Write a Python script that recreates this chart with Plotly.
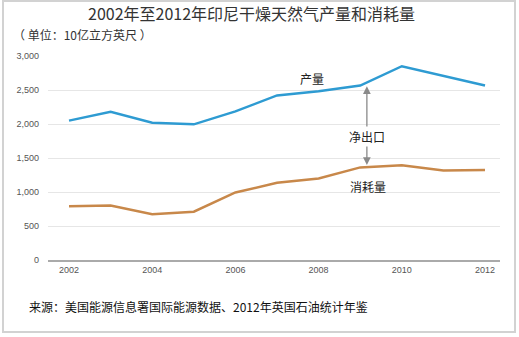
import plotly.graph_objects as go

years = [2002, 2003, 2004, 2005, 2006, 2007, 2008, 2009, 2010, 2011, 2012]
production = [2050, 2180, 2020, 1995, 2185, 2420, 2480, 2565, 2850, 2705, 2565]
consumption = [792, 800, 672, 710, 993, 1135, 1200, 1362, 1393, 1316, 1322]

title_text = "2002年至2012年印尼干燥天然气产量和消耗量"
unit_text = "（ 单位：10亿立方英尺 ）"
source_text = "来源：美国能源信息署国际能源数据、2012年英国石油统计年鉴"
label_prod = "产量"
label_cons = "消耗量"
label_net = "净出口"

FONT = "Liberation Sans, Noto Sans CJK SC, sans-serif"
CJK = "Noto Sans CJK SC, Liberation Sans, sans-serif"

fig = go.Figure()
fig.add_trace(go.Scatter(x=years, y=production, mode="lines",
                         line=dict(color="#2E9BD2", width=2.5), hoverinfo="skip"))
fig.add_trace(go.Scatter(x=years, y=consumption, mode="lines",
                         line=dict(color="#C8884A", width=2.5), hoverinfo="skip"))

L, R, T, B = 48, 19, 56, 77
W, H = 519, 337
pw, ph = W - L - R, H - T - B

def px(x):
    return (x - L) / pw

def py(y):
    return (H - B - y) / ph

arrow_x = 2009.16
fig.add_annotation(x=arrow_x, y=2555, ax=arrow_x, ay=1375, xref="x", yref="y",
                   axref="x", ayref="y", text="", showarrow=True,
                   arrowhead=2, arrowside="end+start", arrowsize=1.2,
                   arrowwidth=1.3, arrowcolor="#8a8a8a")
fig.add_annotation(x=arrow_x, y=1810, xref="x", yref="y", text=label_net,
                   showarrow=False, bgcolor="white", borderpad=1,
                   font=dict(family=CJK, size=12, color="#222"))
fig.add_annotation(x=2007.84, y=2665, xref="x", yref="y", text=label_prod,
                   showarrow=False, font=dict(family=CJK, size=12, color="#222"))
fig.add_annotation(x=2009.19, y=1088, xref="x", yref="y", text=label_cons,
                   showarrow=False, font=dict(family=CJK, size=12, color="#222"))

fig.add_annotation(x=px(251), y=py(13), xref="paper", yref="paper", text=title_text,
                   showarrow=False, xanchor="center", yanchor="middle", borderpad=0,
                   font=dict(family=CJK, size=16, color="#333"))
fig.add_annotation(x=px(12), y=py(35), xref="paper", yref="paper", text=unit_text,
                   showarrow=False, xanchor="left", yanchor="middle", borderpad=0,
                   font=dict(family=CJK, size=12, color="#333"))
fig.add_annotation(x=px(27), y=py(306), xref="paper", yref="paper", text=source_text,
                   showarrow=False, xanchor="left", yanchor="middle",
                   font=dict(family=CJK, size=12, color="#111"))

fig.add_shape(type="rect", xref="paper", yref="paper",
              x0=px(3), x1=px(515), y0=py(332), y1=py(1),
              line=dict(color="#d2d2d2", width=2), fillcolor="rgba(0,0,0,0)", layer="below")

fig.update_layout(
    width=W, height=H,
    margin=dict(l=L, r=R, t=T, b=B),
    paper_bgcolor="white", plot_bgcolor="white",
    showlegend=False,
    font=dict(family=FONT, size=9, color="#555"),
    xaxis=dict(range=[2001.495, 2012.36], tickmode="array", tickvals=[2002, 2004, 2006, 2008, 2010, 2012],
               showgrid=False, showline=True, linecolor="#aaaaaa", linewidth=2,
               ticks="", zeroline=False, tickfont=dict(size=9, color="#555")),
    yaxis=dict(range=[0, 3000], tickvals=[0, 500, 1000, 1500, 2000, 2500, 3000], tickformat=",",
               showgrid=True, gridcolor="#e6e6e6", gridwidth=1, zeroline=False,
               showline=False, ticks="", ticklabelstandoff=8, tickfont=dict(size=9, color="#555")),
)

fig.write_html("out.html")
